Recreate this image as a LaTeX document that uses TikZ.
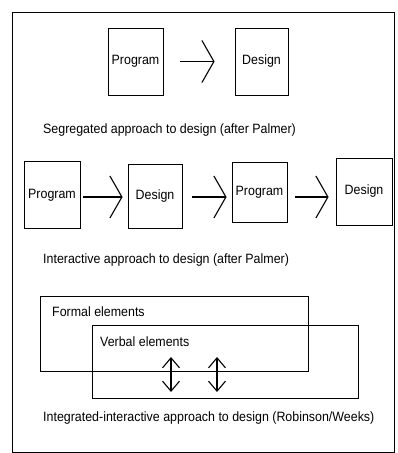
\documentclass[tikz,border=0pt]{standalone}
\usepackage{fontspec}
\setmainfont[FakeStretch=0.92]{Liberation Sans}
\usetikzlibrary{arrows.meta}
\tikzset{
  box/.style={draw, line width=0.9pt, inner sep=0pt, font=\fontsize{13.5}{15}\selectfont},
  lbl/.style={inner sep=0pt, anchor=west, font=\fontsize{13.5}{15}\selectfont},
  harrow/.style={line width=1.1pt, -{Straight Barb[length=12pt,width=42pt,line width=1.1pt]}},
  varrow/.style={line width=1.1pt, {Straight Barb[length=10pt,width=17pt,line width=1.1pt]}-{Straight Barb[length=10pt,width=17pt,line width=1.1pt]}},
  frame/.style={draw, line width=0.9pt}
}
\begin{document}
\begin{tikzpicture}[x=1pt,y=-1pt]
\useasboundingbox (0,0) rectangle (398,453);
\draw[frame] (12,12) rectangle (394,452);
% row 1
\node[box, minimum width=55pt, minimum height=67pt] (P0) at (135.5,61.5) {Program};
\node[box, minimum width=53pt, minimum height=67pt] (D0) at (261.5,61.5) {Design};
\draw[harrow, shorten <=17pt, shorten >=20pt] (P0.east) -- (D0.west);
\node[lbl] (c1) at (43,130) {Segregated approach to design (after Palmer)};
% row 2
\node[box, minimum width=56pt, minimum height=67pt] (P1) at (52,195) {Program};
\node[box, minimum width=54pt, minimum height=64pt] (D1) at (155,196) {Design};
\node[box, minimum width=55pt, minimum height=60pt] (P2) at (259.5,192) {Program};
\node[box, minimum width=56pt, minimum height=67pt] (D2) at (364,191.5) {Design};
\draw[harrow, shorten <=3pt, shorten >=5pt] ([yshift=-2pt]P1.east) -- ([yshift=-2pt]P1.east -| D1.west);
\draw[harrow, shorten <=10pt, shorten >=5pt] ([yshift=-1pt]D1.east) -- ([yshift=-1pt]D1.east -| P2.west);
\draw[harrow, shorten <=8pt, shorten >=7pt] ([yshift=-5pt]P2.east) -- ([yshift=-5pt]P2.east -| D2.west);
\node[lbl] (c2) at (43,260) {Interactive approach to design (after Palmer)};
% row 3
\node[draw, line width=0.9pt, minimum width=268pt, minimum height=75pt, inner sep=0pt] (F) at (174,333.5) {};
\node[draw, line width=0.9pt, minimum width=266pt, minimum height=73pt, inner sep=0pt] (V) at (225,361.5) {};
\node[lbl] (ft) at (52,312) {Formal elements};
\node[lbl] (vt) at (100,342) {Verbal elements};
\coordinate (a1t) at (171,357);
\coordinate (a1b) at (171,392);
\coordinate (a2t) at (217,357);
\coordinate (a2b) at (217,392);
\draw[varrow] (a1t) -- (a1b);
\draw[varrow] (a2t) -- (a2b);
\node[lbl] (c3) at (43,418) {Integrated-interactive approach to design (Robinson/Weeks)};
\end{tikzpicture}
\end{document}
